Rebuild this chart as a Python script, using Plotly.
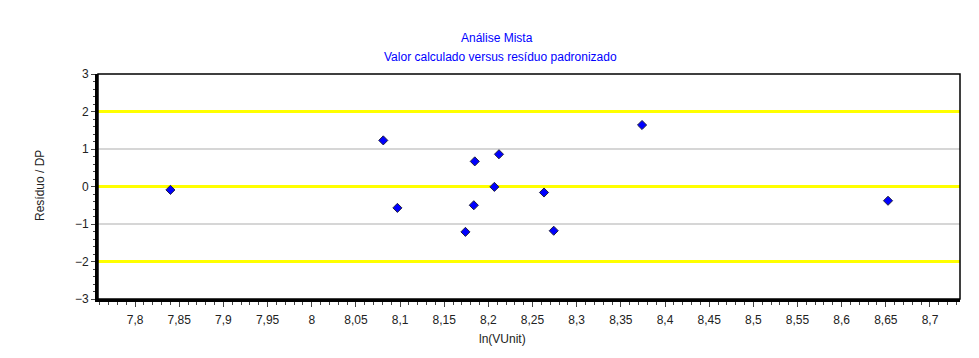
import plotly.graph_objects as go

# Data
x_vals = [7.840, 8.081, 8.097, 8.174, 8.1846, 8.1835, 8.2068, 8.212, 8.263, 8.274, 8.374, 8.6525]
y_vals = [-0.09, 1.23, -0.57, -1.21, 0.67, -0.50, -0.01, 0.86, -0.16, -1.18, 1.64, -0.38]

x_ticks = [7.8, 7.85, 7.9, 7.95, 8.0, 8.05, 8.1, 8.15, 8.2, 8.25, 8.3, 8.35, 8.4, 8.45, 8.5, 8.55, 8.6, 8.65, 8.7]
x_tick_labels = ["7,8", "7,85", "7,9", "7,95", "8", "8,05", "8,1", "8,15", "8,2", "8,25", "8,3", "8,35",
                 "8,4", "8,45", "8,5", "8,55", "8,6", "8,65", "8,7"]
y_ticks = [-3, -2, -1, 0, 1, 2, 3]
ref_lines_yellow = [-2, 0, 2]
ref_lines_gray = [-1, 1]

OFF = 8  # browser body margin
W, H = 979 - OFF, 358 - OFF
L, R, T, B = 98 - OFF, 19, 74 - OFF, 59

fig = go.Figure()
fig.add_trace(go.Scatter(
    x=x_vals, y=y_vals, mode="markers",
    marker=dict(symbol="diamond", size=7, color="#0000ff", line=dict(color="#202040", width=1)),
    showlegend=False, hoverinfo="x+y"))

shapes = []
for yv in ref_lines_gray:
    shapes.append(dict(type="line", xref="paper", yref="y", x0=0, x1=1, y0=yv, y1=yv,
                       line=dict(color="#c8c8c8", width=1.5), layer="below"))
for yv in ref_lines_yellow:
    shapes.append(dict(type="line", xref="paper", yref="y", x0=0, x1=1, y0=yv, y1=yv,
                       line=dict(color="#ffff00", width=3), layer="below"))
# thin frame (top/right)
shapes.append(dict(type="rect", xref="paper", yref="paper", x0=0, x1=1, y0=0, y1=1,
                   line=dict(color="black", width=1.5), layer="above"))

font = dict(family="Liberation Sans, Arial, sans-serif", size=12, color="#222222")
pw = W - L - R
ph = H - T - B

def px_x(p):
    return (p - OFF - L) / pw

def px_y(p):
    return (H - B - (p - OFF)) / ph

annotations = [
    dict(text="Análise Mista", xref="paper", yref="paper", x=px_x(497), y=px_y(38),
         showarrow=False, font=dict(family=font["family"], size=12, color="#0000ff"),
         xanchor="center", yanchor="middle"),
    dict(text="Valor calculado versus resíduo padronizado", xref="paper", yref="paper",
         x=px_x(500), y=px_y(57), showarrow=False,
         font=dict(family=font["family"], size=12, color="#0000ff"),
         xanchor="center", yanchor="middle"),
    dict(text="ln(VUnit)", xref="paper", yref="paper", x=px_x(502), y=px_y(339),
         showarrow=False, font=font, xanchor="center", yanchor="middle"),
    dict(text="Resíduo / DP", xref="paper", yref="paper", x=px_x(40), y=px_y(186),
         showarrow=False, font=font, textangle=-90, xanchor="center", yanchor="middle"),
]

fig.update_layout(
    width=W, height=H,
    margin=dict(l=L, r=R, t=T, b=B, pad=0),
    paper_bgcolor="white", plot_bgcolor="white",
    font=font,
    shapes=shapes,
    annotations=annotations,
    xaxis=dict(range=[7.758, 8.734], tickvals=x_ticks, ticktext=x_tick_labels,
               showgrid=False, zeroline=False, showline=True, linecolor="black", linewidth=3,
               ticks="outside", ticklen=5, tickwidth=1, tickcolor="#444444",
               ticklabelstandoff=3,
               minor=dict(ticks="outside", dtick=0.01, tick0=7.8, ticklen=3, tickcolor="#444444", showgrid=False),
               tickfont=font),
    yaxis=dict(range=[-3, 3], tickvals=y_ticks, showgrid=False, zeroline=False,
               showline=True, linecolor="black", linewidth=3,
               ticks="outside", ticklen=4, tickwidth=1, tickcolor="#444444",
               minor=dict(ticks="outside", dtick=0.2, tick0=0, ticklen=2, tickcolor="#444444", showgrid=False),
               tickfont=font),
)

fig.write_html("out.html")
